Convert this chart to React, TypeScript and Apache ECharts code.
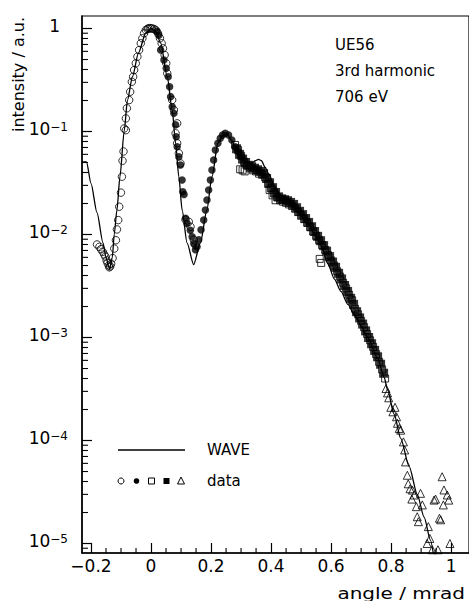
import React, { useEffect, useRef } from 'react';
import * as echarts from 'echarts';

// ---------- axis ranges & tick labels ----------
const X_MIN = -0.23;
const X_MAX = 1.0595;
const Y_MIN = 8.09e-6;
const Y_MAX = 1.3225;
const xTickValues = [-0.2, 0, 0.2, 0.4, 0.6, 0.8, 1];
const xTickLabels = ['\u22120.2', '0', '0.2', '0.4', '0.6', '0.8', '1'];
const yDecades = [0, -1, -2, -3, -4, -5];

// ---------- WAVE calculation ----------
const waveX = [-0.23, -0.215, -0.2, -0.18, -0.16, -0.15, -0.138, -0.129, -0.1225, -0.1136, -0.1036, -0.0894, -0.0785, -0.0619, -0.042, -0.0175, 0, 0.016, 0.032, 0.054, 0.0705, 0.0818, 0.0927, 0.1036, 0.12, 0.142, 0.1646, 0.186, 0.203, 0.223, 0.24, 0.253, 0.268, 0.28, 0.295, 0.308, 0.322, 0.335, 0.348, 0.358, 0.368, 0.38, 0.391, 0.413, 0.435, 0.457, 0.49, 0.523, 0.545, 0.567, 0.589, 0.611, 0.633, 0.656, 0.678, 0.7, 0.722, 0.755, 0.777, 0.788, 0.81, 0.832, 0.86, 0.887, 0.91, 0.931, 0.945];
const waveY = [0.0506, 0.0506, 0.0313, 0.0163, 0.0083, 0.006, 0.0046, 0.006, 0.0101, 0.0173, 0.0364, 0.101, 0.202, 0.34, 0.578, 0.904, 1.0, 0.93, 0.723, 0.34, 0.162, 0.0773, 0.0364, 0.0173, 0.0083, 0.0051, 0.0083, 0.0173, 0.0364, 0.0773, 0.092, 0.095, 0.083, 0.0712, 0.06, 0.053, 0.049, 0.049, 0.052, 0.0537, 0.052, 0.045, 0.0393, 0.0291, 0.0233, 0.0205, 0.0165, 0.0125, 0.0102, 0.0078, 0.0052, 0.0037, 0.0028, 0.0021, 0.00165, 0.0013, 0.001, 0.00063, 0.00041, 0.00031, 0.00018, 0.000105, 0.000056, 0.00003, 0.000018, 0.0000108, 0.0000065];

// ---------- measured data ----------
const openCircleX = [-0.18, -0.172, -0.167, -0.161, -0.156, -0.152, -0.148, -0.145, -0.141, -0.139, -0.136, -0.133, -0.128, -0.1225, -0.117, -0.1136, -0.1093, -0.106, -0.1003, -0.097, -0.095, -0.0917, -0.0894, -0.0838, -0.0838, -0.0805, -0.0728, -0.0695, -0.0639, -0.0596, -0.0563, -0.0507, -0.0454, -0.0397, -0.0341, -0.0288, -0.0232, -0.0175, -0.012, -0.0089, -0.004, 0, 0.004, 0.01, 0.0156, 0.023, 0.0298, 0.0354, 0.0397, 0.0454, 0.0507, 0.054, 0.0705, 0.0762, 0.0871, 0.0818, 0.0871, 0.0927, 0.0983, 0.115, 0.1258, 0.1315, 0.1424, 0.148];
const openCircleY = [0.008, 0.0076, 0.0072, 0.0068, 0.0064, 0.0061, 0.0056, 0.0053, 0.005, 0.0048, 0.0049, 0.0052, 0.0059, 0.0073, 0.0088, 0.0112, 0.0138, 0.0186, 0.0255, 0.0364, 0.052, 0.064, 0.107, 0.103, 0.134, 0.168, 0.202, 0.243, 0.304, 0.34, 0.395, 0.459, 0.532, 0.618, 0.718, 0.803, 0.898, 0.966, 0.99, 1.0, 1.01, 1.0, 1.0, 0.99, 0.967, 0.898, 0.803, 0.718, 0.642, 0.553, 0.459, 0.367, 0.202, 0.162, 0.12, 0.096, 0.077, 0.0615, 0.049, 0.0139, 0.0133, 0.0119, 0.0089, 0.0079];

const filledCircleX = [0.02, 0.026, 0.032, 0.043, 0.0507, 0.0573, 0.0619, 0.0652, 0.0705, 0.0762, 0.0818, 0.0838, 0.0871, 0.0927, 0.0983, 0.1036, 0.106, 0.11, 0.115, 0.12, 0.131, 0.137, 0.1424, 0.148, 0.1533, 0.159, 0.1666, 0.1755, 0.1811, 0.1864, 0.192, 0.1977, 0.203, 0.2086, 0.2142, 0.2228, 0.2308, 0.2384, 0.2474, 0.2583, 0.2692, 0.2805, 0.2914, 0.3023];
const filledCircleY = [0.94, 0.86, 0.62, 0.495, 0.411, 0.34, 0.272, 0.218, 0.174, 0.15, 0.116, 0.089, 0.0712, 0.0569, 0.0473, 0.0338, 0.026, 0.0245, 0.0144, 0.0128, 0.011, 0.0095, 0.0082, 0.0071, 0.0076, 0.0089, 0.0111, 0.0138, 0.0173, 0.0216, 0.027, 0.0338, 0.0423, 0.0529, 0.0661, 0.0768, 0.0859, 0.0925, 0.096, 0.0925, 0.0827, 0.0712, 0.0637, 0.0569];

const openSquareX = [0.28, 0.29, 0.3, 0.31, 0.32, 0.33, 0.34, 0.35, 0.36, 0.37, 0.38, 0.39, 0.4, 0.41, 0.42, 0.43, 0.44, 0.45, 0.46, 0.47, 0.48, 0.49, 0.5, 0.51, 0.52, 0.53, 0.54, 0.55, 0.56, 0.57, 0.58, 0.59, 0.6, 0.61, 0.62, 0.63, 0.64, 0.65, 0.66, 0.67, 0.68, 0.69, 0.7, 0.71, 0.72, 0.73, 0.74, 0.75, 0.76, 0.77, 0.78, 0.297, 0.305, 0.312, 0.395, 0.405, 0.415, 0.562, 0.567];
const openSquareY = [0.074, 0.066, 0.058, 0.051, 0.047, 0.044, 0.042, 0.041, 0.039, 0.038, 0.036, 0.031, 0.028, 0.025, 0.023, 0.0215, 0.0208, 0.0203, 0.0196, 0.0189, 0.0178, 0.0165, 0.0152, 0.0141, 0.013, 0.0118, 0.0107, 0.0097, 0.0088, 0.0079, 0.0071, 0.0063, 0.0056, 0.005, 0.0044, 0.0039, 0.0034, 0.003, 0.0026, 0.0023, 0.0019, 0.00168, 0.00145, 0.00126, 0.00108, 0.00094, 0.00081, 0.00069, 0.00058, 0.00049, 0.0004, 0.043, 0.042, 0.041, 0.027, 0.024, 0.0215, 0.0058, 0.0053];

const filledSquareX = [0.285, 0.295, 0.305, 0.315, 0.325, 0.335, 0.345, 0.355, 0.365, 0.375, 0.385, 0.395, 0.405, 0.415, 0.425, 0.435, 0.445, 0.455, 0.465, 0.475, 0.485, 0.495, 0.505, 0.515, 0.525, 0.535, 0.545, 0.555, 0.565, 0.575, 0.585, 0.595, 0.605, 0.615, 0.625, 0.635, 0.645, 0.655, 0.665, 0.675, 0.685, 0.695, 0.705, 0.715, 0.725, 0.735, 0.745, 0.755, 0.765, 0.775];
const filledSquareY = [0.068, 0.06, 0.054, 0.05, 0.047, 0.0455, 0.044, 0.0425, 0.041, 0.039, 0.035, 0.0318, 0.0285, 0.0256, 0.0232, 0.0222, 0.0218, 0.0213, 0.0205, 0.0196, 0.0182, 0.0168, 0.0156, 0.0143, 0.0131, 0.0119, 0.0107, 0.0096, 0.0087, 0.0078, 0.0069, 0.0061, 0.0054, 0.0048, 0.0042, 0.0037, 0.0032, 0.0028, 0.0024, 0.0021, 0.00178, 0.00155, 0.00135, 0.00116, 0.001, 0.00087, 0.00075, 0.00065, 0.00055, 0.00045];

const triangleX = [0.783, 0.788, 0.792, 0.799, 0.806, 0.813, 0.818, 0.821, 0.827, 0.832, 0.841, 0.845, 0.848, 0.854, 0.857, 0.863, 0.869, 0.871, 0.877, 0.884, 0.887, 0.891, 0.898, 0.904, 0.92, 0.924, 0.929, 0.937, 0.943, 0.948, 0.956, 0.961, 0.965, 0.97, 0.974, 0.976, 0.987, 0.992, 0.996];
const triangleY = [0.00032, 0.00029, 0.00026, 0.00021, 0.00019, 0.00021, 0.00017, 0.000147, 0.000131, 0.000126, 0.000097, 0.000081, 0.000062, 0.000046, 0.000038, 0.000034, 0.000027, 0.000033, 0.0000296, 0.0000228, 0.0000182, 0.0000163, 0.0000307, 0.0000237, 0.00001, 0.0000146, 0.0000112, 0.0000087, 0.0000264, 0.000027, 0.0000087, 0.0000176, 0.000017, 0.0000445, 0.0000237, 0.0000331, 0.0000296, 0.0000264, 0.00001];

const FONT = 'DejaVu Sans';

function pairs(xs: number[], ys: number[]) {
  return xs.map((x, i) => [x, ys[i]]);
}

export default function App() {
  const ref = useRef<HTMLDivElement>(null);
  useEffect(() => {
    if (!ref.current) return;
    const chart = echarts.init(ref.current, null, { renderer: 'svg' });

    // minor tick positions (axis decoration)
    const xMinor: number[] = [];
    for (let i = -3; i <= 19; i++) {
      if (i % 4 !== 0) xMinor.push(+(i * 0.05).toFixed(2));
    }
    const yMinor: number[] = [];
    for (let e = -6; e <= 0; e++) {
      for (let m = 2; m <= 9; m++) {
        const v = m * Math.pow(10, e);
        if (v > Y_MIN && v < Y_MAX) yMinor.push(v);
      }
    }

    const hollow = 'rgba(0,0,0,0)';

    const option: any = {
      animation: false,
      backgroundColor: '#ffffff',
      grid: { left: 82, top: 16, right: -3, bottom: 48, show: true, borderColor: '#000', borderWidth: 1.2, backgroundColor: 'transparent' },
      xAxis: {
        type: 'value', min: X_MIN, max: X_MAX, splitNumber: 6,
        axisLine: { show: true, onZero: false, lineStyle: { color: '#000', width: 1.5 } },
        axisTick: { show: true, inside: true, length: 10, lineStyle: { color: '#000', width: 1.2 } },
        splitLine: { show: false },
        axisLabel: {
          showMinLabel: false, showMaxLabel: false, margin: 4,
          color: '#000', fontFamily: FONT, fontSize: 17,
          formatter: (v: number) => {
            const i = xTickValues.findIndex((t) => Math.abs(t - v) < 1e-6);
            return i >= 0 ? xTickLabels[i] : '';
          },
        },
      },
      yAxis: {
        type: 'log', logBase: 10, min: Y_MIN, max: Y_MAX, splitNumber: 10,
        axisLine: { show: true, onZero: false, lineStyle: { color: '#000', width: 1.5 } },
        axisTick: { show: true, inside: true, length: 10, lineStyle: { color: '#000', width: 1.2 } },
        splitLine: { show: false },
        axisLabel: {
          showMinLabel: false, showMaxLabel: false, margin: 14,
          padding: [0, 0, 5, 0],
          formatter: (v: number) => {
            const l = Math.log10(v);
            const e = Math.round(l);
            if (Math.abs(l - e) > 0.01 || yDecades.indexOf(e) < 0) return '';
            if (e === 0) return '{o|1}';
            return '{b|10}{s|\u2212' + (-e) + '}';
          },
          rich: {
            o: { fontFamily: FONT, fontSize: 17, color: '#000', padding: [0, 8, 0, 0], lineHeight: 17 },
            b: { fontFamily: FONT, fontSize: 17, color: '#000', verticalAlign: 'bottom', lineHeight: 17 },
            s: { fontFamily: FONT, fontSize: 12, color: '#000', verticalAlign: 'top', lineHeight: 12, padding: [0, 0, 9, 0] },
          },
        },
      },
      series: [
        {
          type: 'custom', coordinateSystem: 'cartesian2d', silent: true, clip: false, z: 5,
          data: xMinor.map((v) => [v, Y_MIN]),
          renderItem: (_p: any, api: any) => {
            const c = api.coord([api.value(0), api.value(1)]);
            return { type: 'line', shape: { x1: c[0], y1: c[1], x2: c[0], y2: c[1] - 5 }, style: { stroke: '#000', lineWidth: 1.1 } };
          },
        },
        {
          type: 'custom', coordinateSystem: 'cartesian2d', silent: true, clip: false, z: 5,
          data: yMinor.map((v) => [X_MIN, v]),
          renderItem: (_p: any, api: any) => {
            const c = api.coord([api.value(0), api.value(1)]);
            return { type: 'line', shape: { x1: c[0], y1: c[1], x2: c[0] + 6, y2: c[1] }, style: { stroke: '#000', lineWidth: 1.1 } };
          },
        },
        {
          name: 'WAVE', type: 'line', data: pairs(waveX, waveY), symbol: 'none', showSymbol: false,
          smooth: 0.25, smoothMonotone: 'x', lineStyle: { color: '#000', width: 1.3 }, z: 3,
        },
        {
          name: 'open circles', type: 'scatter', data: pairs(openCircleX, openCircleY), symbol: 'circle', symbolSize: 7.5,
          itemStyle: { color: hollow, borderColor: '#000', borderWidth: 1 }, z: 4,
        },
        {
          name: 'filled circles', type: 'scatter', data: pairs(filledCircleX, filledCircleY), symbol: 'circle', symbolSize: 7.5,
          itemStyle: { color: '#000' }, z: 4,
        },
        {
          name: 'filled squares', type: 'scatter', data: pairs(filledSquareX, filledSquareY), symbol: 'rect', symbolSize: 9,
          itemStyle: { color: '#000' }, z: 4,
        },
        {
          name: 'open squares', type: 'scatter', data: pairs(openSquareX, openSquareY), symbol: 'rect', symbolSize: 7,
          itemStyle: { color: hollow, borderColor: '#000', borderWidth: 1 }, z: 4,
        },
        {
          name: 'triangles', type: 'scatter', data: pairs(triangleX, triangleY), symbol: 'triangle', symbolSize: 8,
          itemStyle: { color: hollow, borderColor: '#000', borderWidth: 1 }, z: 4,
        },
      ],
      graphic: [
        { type: 'text', x: 18, y: 17, rotation: Math.PI / 2, style: { text: 'intensity / a.u.', fontFamily: FONT, fontSize: 16, fill: '#000', align: 'right', verticalAlign: 'middle' } },
        { type: 'text', x: 465, y: 593, scaleX: 1.25, style: { text: 'angle / mrad', fontFamily: FONT, fontSize: 16, fill: '#000', align: 'right', verticalAlign: 'middle' } },
        { type: 'text', x: 335, y: 45, style: { text: 'UE56', fontFamily: FONT, fontSize: 15, fill: '#000', align: 'left', verticalAlign: 'middle' } },
        { type: 'text', x: 335, y: 71, style: { text: '3rd harmonic', fontFamily: FONT, fontSize: 15, fill: '#000', align: 'left', verticalAlign: 'middle' } },
        { type: 'text', x: 335, y: 97, style: { text: '706 eV', fontFamily: FONT, fontSize: 15, fill: '#000', align: 'left', verticalAlign: 'middle' } },
        // legend
        { type: 'line', shape: { x1: 118, y1: 450, x2: 185, y2: 450 }, style: { stroke: '#000', lineWidth: 1.3 } },
        { type: 'text', x: 207, y: 450, style: { text: 'WAVE', fontFamily: FONT, fontSize: 15, fill: '#000', align: 'left', verticalAlign: 'middle' } },
        { type: 'circle', shape: { cx: 121, cy: 481, r: 3 }, style: { fill: hollow, stroke: '#000', lineWidth: 1 } },
        { type: 'circle', shape: { cx: 136.5, cy: 481, r: 2.8 }, style: { fill: '#000' } },
        { type: 'rect', shape: { x: 148.5, y: 478, width: 6, height: 6 }, style: { fill: hollow, stroke: '#000', lineWidth: 1 } },
        { type: 'rect', shape: { x: 163.5, y: 478, width: 6, height: 6 }, style: { fill: '#000' } },
        { type: 'polygon', shape: { points: [[181, 477], [184.5, 484], [177.5, 484]] }, style: { fill: hollow, stroke: '#000', lineWidth: 1 } },
        { type: 'text', x: 207, y: 481, style: { text: 'data', fontFamily: FONT, fontSize: 15, fill: '#000', align: 'left', verticalAlign: 'middle' } },
      ],
    };
    chart.setOption(option);
    return () => chart.dispose();
  }, []);
  return <div ref={ref} style={{ position: 'absolute', left: 0, top: 0, width: 469, height: 601, background: '#fff' }} />;
}
